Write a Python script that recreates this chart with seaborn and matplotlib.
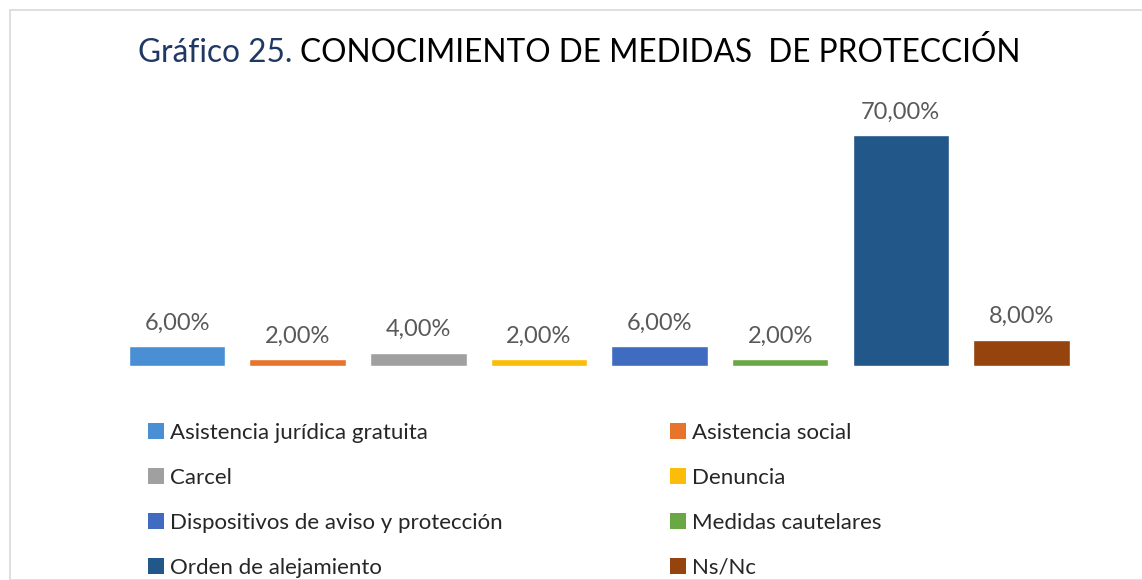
import numpy as np
import pandas as pd
import seaborn as sns
import matplotlib.pyplot as plt
from matplotlib.patches import Patch, Rectangle

sns.set_theme(style="white")
plt.rcParams['font.family'] = ['Lato', 'DejaVu Sans']

# data
categorias = ['Asistencia jurídica gratuita', 'Asistencia social', 'Carcel', 'Denuncia',
              'Dispositivos de aviso y protección', 'Medidas cautelares',
              'Orden de alejamiento', 'Ns/Nc']
porcentajes = [6.0, 2.0, 4.0, 2.0, 6.0, 2.0, 70.0, 8.0]
colores = ['#4a8fd4', '#e8742c', '#a0a0a0', '#fbbd08', '#3f6cc0', '#69a844', '#22578a', '#95440d']

df = pd.DataFrame({'cat': categorias, 'pct': porcentajes})

W, H = 1142, 580
fig = plt.figure(figsize=(W / 100, H / 100), dpi=100)
ax = fig.add_axes([116.7 / W, (H - 366) / H, 965 / W, 264 / H])

sns.barplot(data=df, x='cat', y='pct', hue='cat', palette=colores, dodge=False,
            width=0.8, legend=False, ax=ax, saturation=1)
ax.set_xlim(-0.5, 7.5)
ax.set_ylim(0, 80)
ax.set_axis_off()

for i, v in enumerate(porcentajes):
    ax.annotate(f"{v:.2f}".replace('.', ',') + '%', (i, v), xytext=(0, 9),
                textcoords='offset points', ha='center', va='bottom',
                fontsize=17, color='#595959')

# title, two colours
y_t = 1 - 53 / H
t1 = fig.text(138 / W, y_t, 'Gráfico 25. ', color='#1f3864', fontsize=22.8,
              ha='left', va='center')
fig.canvas.draw()
bb = t1.get_window_extent()
fig.text(bb.x1 / W, y_t, 'CONOCIMIENTO DE MEDIDAS  DE PROTECCIÓN', color='black',
         fontsize=22.8, ha='left', va='center')

# legend in two columns
handles = [Patch(facecolor=c, edgecolor='none') for c in colores]
for col, x0 in enumerate([148, 670]):
    idx = list(range(col, 8, 2))
    leg = fig.legend([handles[i] for i in idx], [categorias[i] for i in idx],
                     loc='upper left', bbox_to_anchor=(x0 / W, 1 - 423 / H),
                     frameon=False, fontsize=16, handlelength=0.7, handleheight=0.7,
                     handletextpad=0.3, labelspacing=1.12, borderaxespad=0, borderpad=0)
    for t in leg.get_texts():
        t.set_color('#262626')

# chart border
fig.patches.append(Rectangle((10 / W, 0), 1, 1 - 10 / H, transform=fig.transFigure,
                             fill=False, edgecolor='#d9d9d9', lw=1.2))

fig.savefig('out.png', dpi=100)
